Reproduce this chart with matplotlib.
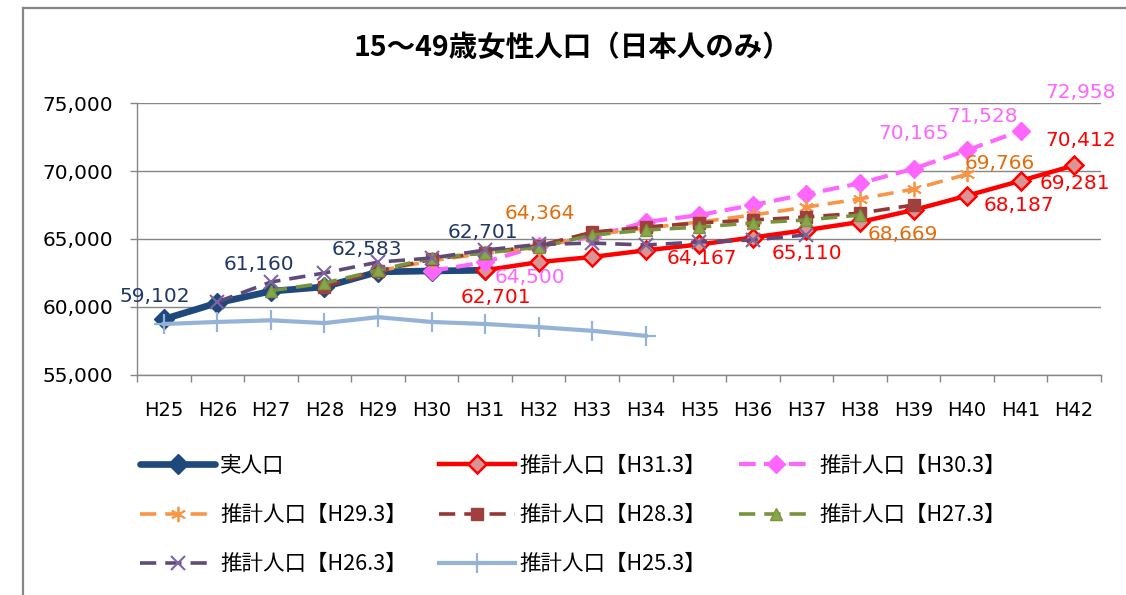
import matplotlib
matplotlib.use("Agg")
import matplotlib.pyplot as plt
from matplotlib.lines import Line2D
import numpy as np

plt.rcParams['font.family'] = ['Noto Sans CJK JP', 'DejaVu Sans']
NUMFONT = ['DejaVu Sans']

# ---------------- data ----------------
categories = ["H25", "H26", "H27", "H28", "H29", "H30", "H31", "H32", "H33",
              "H34", "H35", "H36", "H37", "H38", "H39", "H40", "H41", "H42"]

title = "15～49歳女性人口（日本人のみ）"

actual_start = 0
actual = [59102, 60300, 61160, 61480, 62583, 62650, 62701]

est_h31_start = 6
est_h31 = [62701, 63300, 63680, 64167, 64600, 65110, 65660, 66250, 67130, 68187, 69281, 70412]

est_h30_start = 5
est_h30 = [62650, 63300, 64500, 65150, 66250, 66760, 67500, 68300, 69100, 70165, 71528, 72958]

est_h29_start = 4
est_h29 = [62650, 63400, 63950, 64364, 65300, 65800, 66250, 66760, 67350, 67950, 68669, 69766]

est_h28_start = 3
est_h28 = [61500, 62650, 63500, 64000, 64500, 65500, 65880, 66180, 66400, 66620, 66900, 67500]

est_h27_start = 2
est_h27 = [61200, 61760, 62700, 63600, 63970, 64400, 65290, 65660, 65880, 66180, 66400, 66760]

est_h26_start = 1
est_h26 = [60370, 61840, 62500, 63300, 63600, 64190, 64600, 64700, 64560, 64780, 64930, 65300]

est_h25_start = 0
est_h25 = [58750, 58900, 59020, 58820, 59250, 58900, 58750, 58520, 58250, 57880]

series_labels = ["実人口", "推計人口【H31.3】", "推計人口【H30.3】", "推計人口【H29.3】",
                 "推計人口【H28.3】", "推計人口【H27.3】", "推計人口【H26.3】", "推計人口【H25.3】"]

# data labels: (series key, category index, offset px x, offset px y)
label_points = [
    ("actual", 0, -9, 23), ("actual", 2, -12, 27), ("actual", 4, -11, 22), ("actual", 6, -2, 38),
    ("h31", 6, 11, -27), ("h31", 9, 56, -8), ("h31", 11, 54, -16), ("h31", 15, 52, -10),
    ("h31", 16, 54, -3), ("h31", 17, 7, 25),
    ("h30", 7, -9, -32), ("h30", 14, 0, 35), ("h30", 15, 16, 34), ("h30", 16, 60, 38),
    ("h29", 7, 1, 34), ("h29", 14, -11, -45), ("h29", 15, 33, 11),
]

# ---------------- figure ----------------
W, H = 1126, 595
fig = plt.figure(figsize=(W / 100, H / 100), dpi=100)
ax = fig.add_axes([137 / W, 1 - 375 / H, (1101 - 137) / W, (375 - 103) / H])

# outer chart border
fig.add_artist(Line2D([23 / W, 23 / W], [0, 1 - 8 / H], transform=fig.transFigure,
                      color="#868686", lw=1.6))
fig.add_artist(Line2D([23 / W, 1.0], [1 - 8 / H, 1 - 8 / H], transform=fig.transFigure,
                      color="#868686", lw=1.6))

x_all = np.arange(len(categories))

def xs(start, vals):
    return x_all[start:start + len(vals)]

lines = {}
lines["actual"] = ax.plot(xs(actual_start, actual), actual, color="#1F497D", lw=4.8,
                          marker="D", ms=10, mfc="#1F497D", mec="#1F497D",
                          solid_capstyle="round", zorder=3)[0]
lines["h31"] = ax.plot(xs(est_h31_start, est_h31), est_h31, color="#FF0000", lw=3.2,
                       marker="D", ms=9.5, mfc="#D99594", mec="#FF0000", mew=1.8, zorder=4)[0]
lines["h30"] = ax.plot(xs(est_h30_start, est_h30), est_h30, color="#FF66FF", lw=3.0,
                       ls=(0, (4, 2)), marker="D", ms=9, mfc="#FF66FF", mec="#FF66FF",
                       zorder=5)[0]
lines["h29"] = ax.plot(xs(est_h29_start, est_h29), est_h29, color="#F79646", lw=2.6,
                       ls=(0, (4.5, 2.5)), marker=(6, 2, 0), ms=11, mec="#F79646",
                       mew=1.3, zorder=6)[0]
lines["h28"] = ax.plot(xs(est_h28_start, est_h28), est_h28, color="#953735", lw=2.6,
                       ls=(0, (4.5, 2.5)), marker="s", ms=8, mfc="#A0403E", mec="#A0403E",
                       zorder=7)[0]
lines["h27"] = ax.plot(xs(est_h27_start, est_h27), est_h27, color="#77933C", lw=2.6,
                       ls=(0, (4.5, 2.5)), marker="^", ms=9, mfc="#8AA64A", mec="#77933C",
                       zorder=8)[0]
lines["h26"] = ax.plot(xs(est_h26_start, est_h26), est_h26, color="#604A7B", lw=2.6,
                       ls=(0, (4.5, 2.5)), marker="x", ms=10, mec="#7F659F", mew=1.5,
                       zorder=9)[0]
lines["h25"] = ax.plot(xs(est_h25_start, est_h25), est_h25, color="#95B3D7", lw=3.0,
                       marker="+", ms=14, mec="#95B3D7", mew=1.6, zorder=10)[0]

data_map = {
    "actual": (actual_start, actual, "#1F3864"),
    "h31": (est_h31_start, est_h31, "#FF0000"),
    "h30": (est_h30_start, est_h30, "#FF66FF"),
    "h29": (est_h29_start, est_h29, "#E46C0A"),
}
for key, idx, dx, dy in label_points:
    start, vals, col = data_map[key]
    v = vals[idx - start]
    ax.annotate(f"{v:,}", xy=(idx, v), xytext=(dx, dy), textcoords="offset pixels",
                ha="center", va="center", fontsize=14.5, color=col, zorder=20,
                annotation_clip=False, family=NUMFONT)

# axes styling
ax.set_xlim(-0.5, len(categories) - 0.5)
ax.set_ylim(55000, 75000)
ax.set_yticks(np.arange(55000, 75001, 5000))
ax.yaxis.set_major_formatter(matplotlib.ticker.FuncFormatter(lambda v, p: f"{int(v):,}"))
ax.set_xticks(x_all)
ax.set_xticklabels(categories)
ax.set_xticks(np.arange(-0.5, len(categories)), minor=True)
ax.tick_params(axis="x", which="major", length=0, pad=19, labelsize=14, colors="#000000")
ax.tick_params(axis="x", which="minor", length=5, width=1, color="#868686")
ax.tick_params(axis="y", which="major", length=5, width=1, color="#868686", pad=12,
               labelsize=14.5, labelcolor="#000000")
for t in ax.get_xticklabels() + ax.get_yticklabels():
    t.set_family(NUMFONT)
ax.grid(axis="y", color="#868686", lw=1)
ax.set_axisbelow(True)
for s in ["top", "right"]:
    ax.spines[s].set_visible(False)
for s in ["left", "bottom"]:
    ax.spines[s].set_color("#868686")
    ax.spines[s].set_linewidth(1)

fig.text(572 / W, 1 - 48 / H, title, ha="center", va="center", fontsize=20.5,
         fontweight="bold")

# legend (row-major in reference -> reorder for column-major fill)
order = ["actual", "h29", "h26", "h31", "h28", "h25", "h30", "h27"]
keys = ["actual", "h31", "h30", "h29", "h28", "h27", "h26", "h25"]
lab_of = dict(zip(keys, series_labels))
leg = fig.legend([lines[k] for k in order], [lab_of[k] for k in order],
                 ncol=3, loc="upper left", bbox_to_anchor=(140 / W, 1 - 455 / H),
                 frameon=False, fontsize=15.5, handlelength=3.5, handletextpad=0.23,
                 columnspacing=1.5, labelspacing=1.26, numpoints=1, borderaxespad=0,
                 borderpad=0)

fig.savefig("out.png", dpi=100)
